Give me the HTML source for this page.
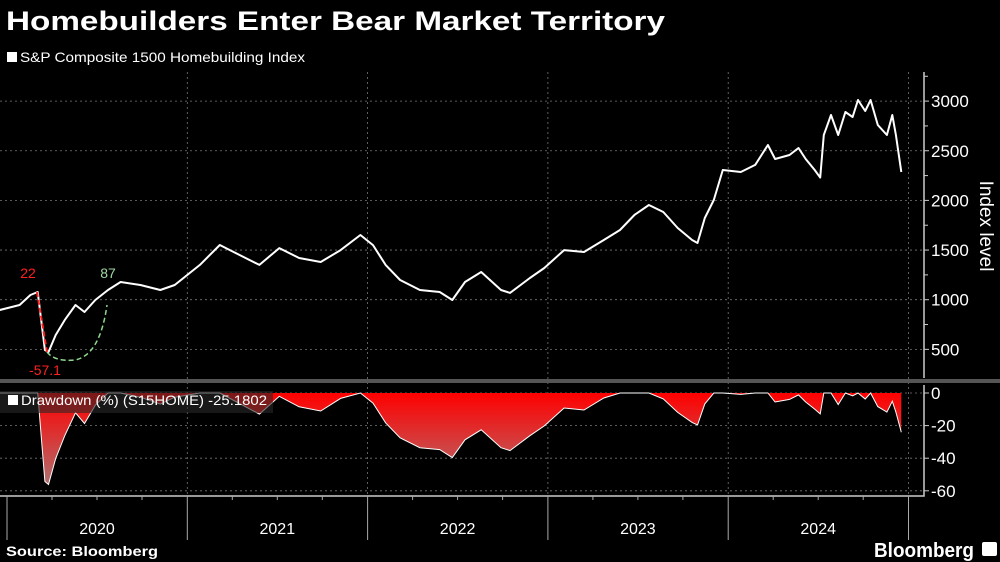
<!DOCTYPE html>
<html><head><meta charset="utf-8"><style>
html,body{margin:0;padding:0;background:#000;width:1000px;height:562px;overflow:hidden}
svg{display:block}
text{font-family:"Liberation Sans","DejaVu Sans",sans-serif}
</style></head><body>
<svg id="chart" width="1000" height="562" viewBox="0 0 1000 562">
<defs><linearGradient id="ddg" x1="0" y1="0" x2="0" y2="1">
<stop offset="0" stop-color="#ff0000"/><stop offset="1" stop-color="#b07070"/></linearGradient></defs>
<text x="6" y="30" fill="#fff" font-size="27" font-weight="bold" textLength="659" lengthAdjust="spacingAndGlyphs">Homebuilders Enter Bear Market Territory</text>
<rect x="7" y="52" width="10" height="10" fill="#fff"/>
<text x="20" y="62" fill="#fff" font-size="14" textLength="285" lengthAdjust="spacingAndGlyphs">S&amp;P Composite 1500 Homebuilding Index</text>
<g id="grid"></g>
<g id="marks"></g>
<g id="axes"></g>
<rect x="0" y="379" width="1000" height="4" fill="#555"/>
<rect x="0" y="391" width="273" height="22" fill="rgba(40,40,40,0.6)"/>
<rect x="8" y="395" width="10" height="10" fill="#fff"/>
<text x="21" y="405" fill="#fff" font-size="14" textLength="246" lengthAdjust="spacingAndGlyphs">Drawdown (%) (S15HOME) -25.1802</text>
<text x="966" y="240" fill="#fff" font-size="19" transform="rotate(90 980 240)" text-anchor="middle">Index level</text>
<text x="28" y="278" fill="#ff2020" font-size="14" text-anchor="middle">22</text>
<text x="108" y="278" fill="#9fd89f" font-size="14" text-anchor="middle">87</text>
<text x="45" y="375" fill="#ff2020" font-size="14" text-anchor="middle">-57.1</text>
<path d="M37 292 L47 352" stroke="#ff2020" stroke-width="2" stroke-dasharray="5 3" fill="none"/>
<path d="M47 352 Q55 362 75 360 Q100 355 107 305" stroke="#8fd88f" stroke-width="1.5" stroke-dasharray="5 3" fill="none"/>
<text x="6" y="556" fill="#fff" font-size="14" font-weight="bold" textLength="152" lengthAdjust="spacingAndGlyphs">Source: Bloomberg</text>
<text x="874" y="557" fill="#fff" font-size="20" font-weight="bold" textLength="100" lengthAdjust="spacingAndGlyphs">Bloomberg</text>
<rect x="982" y="542" width="15" height="14" rx="2" fill="#fff"/>
</svg>
<script>
const dates=[2019.96,2020.07,2020.13,2020.17,2020.21,2020.23,2020.27,2020.32,2020.38,2020.43,2020.49,2020.56,2020.63,2020.74,2020.85,2020.93,2021.07,2021.18,2021.29,2021.40,2021.51,2021.62,2021.74,2021.85,2021.96,2022.03,2022.10,2022.18,2022.29,2022.40,2022.47,2022.54,2022.63,2022.74,2022.79,2022.90,2022.98,2023.09,2023.20,2023.31,2023.40,2023.48,2023.56,2023.64,2023.72,2023.80,2023.83,2023.87,2023.92,2023.97,2024.07,2024.15,2024.22,2024.26,2024.34,2024.39,2024.43,2024.48,2024.51,2024.53,2024.57,2024.61,2024.65,2024.69,2024.72,2024.76,2024.79,2024.83,2024.88,2024.91,2024.93,2024.96];
const values=[896,947,1047,1078,493,473,645,795,947,876,997,1098,1178,1148,1098,1148,1350,1551,1450,1350,1520,1420,1380,1500,1652,1550,1350,1198,1098,1078,997,1178,1279,1098,1068,1219,1319,1500,1480,1601,1702,1853,1954,1883,1722,1601,1571,1823,2004,2306,2286,2357,2558,2417,2457,2528,2417,2306,2230,2659,2860,2659,2890,2840,3011,2900,3011,2759,2659,2860,2659,2286];
const yTicks=[500,1000,1500,2000,2500,3000];
const ddTicks=[0,-20,-40,-60];
const years=["2020","2021","2022","2023","2024"];
const NS="http://www.w3.org/2000/svg";
const X=t=>7+(t-2020)*180.3;
const Y=v=>399-v*0.0993;
const YD=v=>393-v*1.63;
function mk(tag,attrs,parent){const e=document.createElementNS(NS,tag);for(const k in attrs)e.setAttribute(k,attrs[k]);document.getElementById(parent).appendChild(e);return e;}
const dd=[];let mx=0;values.forEach(v=>{mx=Math.max(mx,v);dd.push((v/mx-1)*100);});
yTicks.forEach(v=>{const l=mk('line',{x1:0,x2:923,y1:Y(v),y2:Y(v),stroke:'#777','stroke-dasharray':'2 3','stroke-width':0.8},'grid');

});
ddTicks.forEach(v=>{const l=mk('line',{x1:0,x2:923,y1:YD(v),y2:YD(v),stroke:'#777','stroke-dasharray':'2 3','stroke-width':0.8},'grid');

});
for(let i=1;i<=5;i++){const x=X(2020+i);const l=mk('line',{x1:x,x2:x,y1:72,y2:496,stroke:'#777','stroke-dasharray':'2 3','stroke-width':0.8},'grid');

}
let d='M'+X(dates[0])+' '+YD(0);dates.forEach((t,i)=>{d+=' L'+X(t).toFixed(1)+' '+YD(dd[i]).toFixed(1);});d+=' L'+X(dates[dates.length-1])+' '+YD(0)+' Z';
const area=mk('path',{d:d,fill:'url(#ddg)'},'marks');


const ddl=mk('polyline',{points:dates.map((t,i)=>X(t).toFixed(1)+','+YD(dd[i]).toFixed(1)).join(' '),fill:'none',stroke:'#fff','stroke-width':1},'marks');


const line=mk('polyline',{points:dates.map((t,i)=>X(t).toFixed(1)+','+Y(values[i]).toFixed(1)).join(' '),fill:'none',stroke:'#fff','stroke-width':2,'stroke-linejoin':'round'},'marks');


const ax=mk('line',{x1:924,x2:924,y1:72,y2:378,stroke:'#ccc','stroke-width':1.5},'axes');


const ax2=mk('polyline',{points:'0,496 924,496 924,385',fill:'none',stroke:'#ccc','stroke-width':1.5},'axes');


yTicks.forEach(v=>{mk('line',{x1:924,x2:929,y1:Y(v),y2:Y(v),stroke:'#ccc'},'axes');
const t=mk('text',{x:931,y:Y(v)+6,fill:'#fff','font-size':17},'axes');t.textContent=v;


mk('line',{x1:924,x2:928,y1:Y(v+250),y2:Y(v+250),stroke:'#ccc'},'axes');});
ddTicks.forEach(v=>{mk('line',{x1:924,x2:929,y1:YD(v),y2:YD(v),stroke:'#ccc'},'axes');
const t=mk('text',{x:931,y:YD(v)+6,fill:'#fff','font-size':17},'axes');t.textContent=(v<0?'-':'')+Math.abs(v);

});
years.forEach((y,i)=>{const x0=X(2020+i);
const s=mk('line',{x1:x0,x2:x0,y1:496,y2:540,stroke:'#aaa'},'axes');


for(let q=1;q<4;q++)mk('line',{x1:x0+q*45,x2:x0+q*45,y1:496,y2:500,stroke:'#aaa'},'axes');
const t=mk('text',{x:x0+90,y:534,fill:'#fff','font-size':16,'text-anchor':'middle'},'axes');t.textContent=y;

});
const s=mk('line',{x1:X(2025),x2:X(2025),y1:496,y2:540,stroke:'#aaa'},'axes');


</script>
</body></html>
